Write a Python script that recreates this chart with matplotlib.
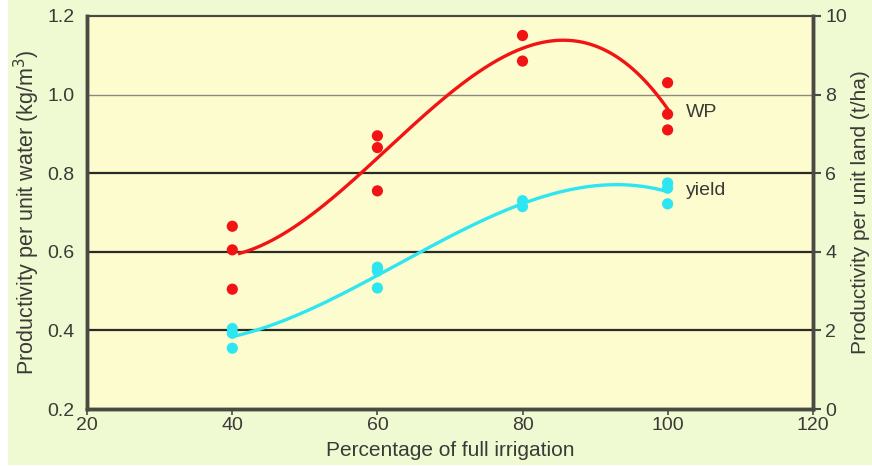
import numpy as np
import matplotlib
matplotlib.use("Agg")
import matplotlib.pyplot as plt
from matplotlib.patches import Rectangle

plt.rcParams['font.family'] = ['Liberation Sans', 'DejaVu Sans']

# WP data (kg/m3, left axis)
wp_x = [40, 40, 40, 60, 60, 60, 80, 80, 100, 100, 100]
wp_y = [0.665, 0.605, 0.505, 0.895, 0.865, 0.755, 1.15, 1.085, 1.03, 0.95, 0.91]
# yield data (t/ha, right axis)
yl_x = [40, 40, 40, 60, 60, 60, 80, 80, 100, 100, 100]
yl_y = [2.05, 1.93, 1.55, 3.61, 3.51, 3.08, 5.30, 5.15, 5.75, 5.62, 5.22]

xticks = [20, 40, 60, 80, 100, 120]
lticks = [0.2, 0.4, 0.6, 0.8, 1.0, 1.2]
rticks = [0, 2, 4, 6, 8, 10]

red = '#f21414'
cyan = '#2ee6f2'
frame = '#4a4a44'
txt = '#3a3a36'

fig = plt.figure(figsize=(8.72, 4.66), dpi=100, facecolor='white')
fig.patches.append(Rectangle((8 / 872, 1 / 466), 1, 1, transform=fig.transFigure,
                             facecolor='#effad2', edgecolor='none', zorder=-10))
ax = fig.add_axes([0.1, 0.122, 0.832, 0.844])
ax.set_facecolor('#fdfccf')
ax2 = ax.twinx()

ax.set_xlim(20, 120)
ax.set_ylim(0.2, 1.2)
ax2.set_ylim(0, 10)

for y in [0.4, 0.6, 0.8]:
    ax.axhline(y, color='#2a2a26', lw=1.6, zorder=1)
ax.axhline(1.0, color='#8a8a80', lw=1.0, zorder=1)

# fitted curves
c1 = np.polyfit(wp_x, wp_y, 3)
xs1 = np.linspace(41, 100, 200)
ax.plot(xs1, np.polyval(c1, xs1), color=red, lw=2.4, zorder=3)
ax.scatter(wp_x, wp_y, s=65, color=red, zorder=4, edgecolors='none')

c2 = np.polyfit(yl_x, yl_y, 3)
xs2 = np.linspace(40, 100, 200)
ax2.plot(xs2, np.polyval(c2, xs2), color=cyan, lw=2.4, zorder=3)
ax2.scatter(yl_x, yl_y, s=65, color=cyan, zorder=4, edgecolors='none')

ax.text(102.5, 0.955, 'WP', fontsize=14, color=txt, va='center', ha='left')
ax.text(102.5, 0.757, 'yield', fontsize=14, color=txt, va='center', ha='left')

ax.set_xticks(xticks)
ax.set_yticks(lticks)
ax.set_yticklabels([f'{v:.1f}' for v in lticks])
ax2.set_yticks(rticks)

ax.tick_params(axis='x', direction='out', length=4, width=1.2, color=frame,
               labelsize=14, labelcolor=txt, pad=2)
ax.tick_params(axis='y', direction='in', length=0, labelsize=14,
               labelcolor=txt, pad=9)
ax2.tick_params(axis='y', direction='out', length=6, width=1.5, color=frame,
                labelsize=14, labelcolor=txt, pad=3)

for a in (ax, ax2):
    for s in ['left', 'right', 'bottom']:
        a.spines[s].set_linewidth(2.5)
        a.spines[s].set_color(frame)
    a.spines['top'].set_linewidth(1.5)
    a.spines['top'].set_color(frame)

ax.set_xlabel('Percentage of full irrigation', fontsize=15, color=txt, labelpad=5)
ax.set_ylabel('Productivity per unit water (kg/m$^3$)', fontsize=15.5, color=txt, labelpad=4)
ax2.set_ylabel('Productivity per unit land (t/ha)', fontsize=15, color=txt,
               rotation=90, labelpad=3)

fig.savefig('out.png', dpi=100, facecolor=fig.get_facecolor())
